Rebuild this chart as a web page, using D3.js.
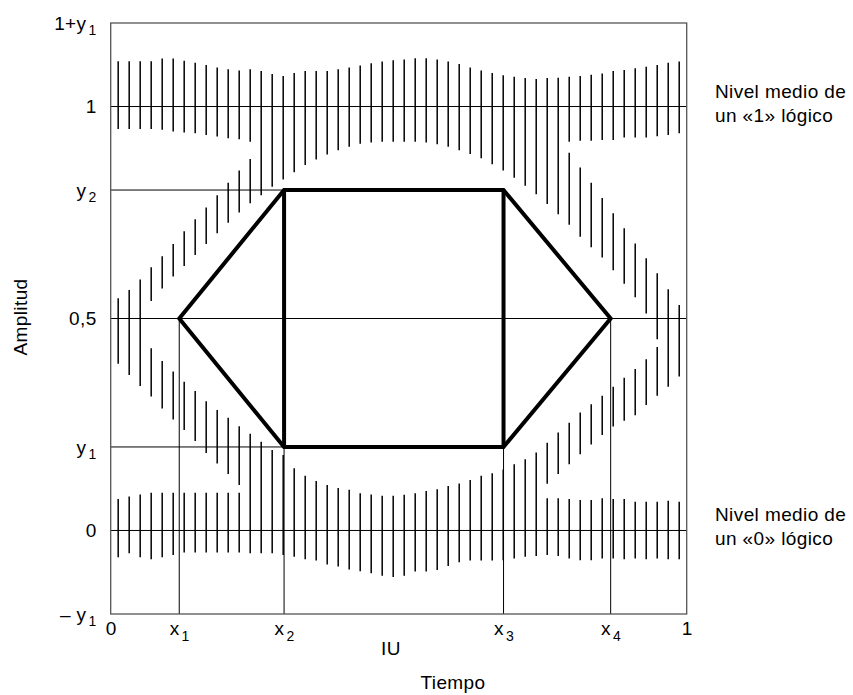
<!DOCTYPE html>
<html lang="es">
<head>
<meta charset="UTF-8">
<title>Diagrama de ojo</title>
<script src="https://cdn.jsdelivr.net/npm/d3@7"></script>
<style>
  body { margin: 0; background: #fff; }
  svg { display: block; font-family: "Liberation Sans", Arial, sans-serif; }
  text { letter-spacing: 0.4px; }
</style>
</head>
<body>
<svg width="853" height="695"></svg>
<script>
// niveles
var y1 = 0.197, y2 = 1 - y1;
var x1 = 0.119, x2 = 0.301, x3 = 0.682, x4 = 0.868;

// etiquetas de los ejes: [texto, subindice]
var yTicks = [-y1, 0, y1, 0.5, y2, 1, 1 + y1];
var yLabels = [["\u2013 y", "1"], ["0", ""], ["y", "1"], ["0,5", ""], ["y", "2"], ["1", ""], ["1+y", "1"]];
var xTicks = [0, x1, x2, x3, x4, 1];
var xLabels = [["0", ""], ["x", "1"], ["x", "2"], ["x", "3"], ["x", "4"], ["1", ""]];

// rayado: una columna por cada trazo vertical (amplitud)
var hatchFrom = 0.013, hatchTo = 0.987;
var upperTop = [1.107,1.107,1.107,1.107,1.113,1.113,1.108,1.103,1.098,1.092,1.088,1.085,1.088,1.084,1.077,1.072,1.079,1.084,1.084,1.084,1.088,1.092,1.097,1.102,1.106,1.109,1.111,1.114,1.114,1.111,1.106,1.100,1.092,1.085,1.079,1.074,1.070,1.067,1.065,1.067,1.068,1.070,1.072,1.075,1.078,1.084,1.086,1.090,1.094,1.098,1.103,1.106];
var upperBot = [0.947,0.947,0.947,0.947,0.945,0.941,0.939,0.937,0.933,0.929,0.925,0.923,0.917,0.791,0.811,0.828,0.845,0.862,0.875,0.887,0.897,0.905,0.912,0.915,0.917,0.917,0.917,0.917,0.915,0.911,0.905,0.897,0.888,0.878,0.864,0.849,0.832,0.813,0.793,0.770,0.746,0.917,0.919,0.919,0.921,0.921,0.927,0.927,0.927,0.930,0.933,0.937];
var lowerTop = [0.074,0.080,0.085,0.089,0.089,0.089,0.089,0.089,0.089,0.089,0.089,0.089,0.228,0.209,0.190,0.178,0.147,0.129,0.117,0.107,0.100,0.096,0.088,0.085,0.082,0.082,0.084,0.088,0.093,0.097,0.105,0.111,0.119,0.129,0.135,0.144,0.156,0.168,0.184,0.076,0.076,0.074,0.072,0.072,0.076,0.074,0.074,0.068,0.068,0.068,0.070,0.068];
var lowerBot = [-0.063,-0.054,-0.063,-0.068,-0.063,-0.058,-0.052,-0.052,-0.052,-0.052,-0.052,-0.052,-0.054,-0.054,-0.054,-0.058,-0.062,-0.068,-0.071,-0.080,-0.085,-0.092,-0.096,-0.101,-0.107,-0.110,-0.107,-0.097,-0.097,-0.093,-0.084,-0.075,-0.071,-0.071,-0.071,-0.070,-0.066,-0.062,-0.060,-0.058,-0.060,-0.066,-0.070,-0.070,-0.066,-0.066,-0.068,-0.066,-0.068,-0.066,-0.068,-0.068];

// transiciones sueltas: [columna, arriba, abajo]
var riseLeft = [[0,0.548,0.393],[1,0.567,0.367],[2,0.592,0.341],[3,0.621,0.541],[4,0.647,0.571],[5,0.676,0.599],[6,0.706,0.624],[7,0.734,0.650],[8,0.762,0.676],[9,0.791,0.701],[10,0.820,0.726],[11,0.849,0.750],[12,0.876,0.772]];
var fallLeft = [[3,0.430,0.316],[4,0.400,0.288],[5,0.375,0.262],[6,0.351,0.237],[7,0.329,0.211],[8,0.305,0.183],[9,0.284,0.158],[10,0.266,0.133],[11,0.246,0.107]];
var riseRight = [[39,0.207,0.110],[40,0.231,0.133],[41,0.254,0.156],[42,0.278,0.180],[43,0.298,0.203],[44,0.318,0.225],[45,0.339,0.245],[46,0.360,0.259],[47,0.381,0.272],[48,0.404,0.296],[49,0.433,0.318]];
var fallRight = [[41,0.891,0.721],[42,0.856,0.693],[43,0.820,0.668],[44,0.784,0.644],[45,0.748,0.614],[46,0.713,0.582],[47,0.677,0.550],[48,0.642,0.512],[49,0.607,0.451],[50,0.569,0.339],[51,0.532,0.363]];

// mascara del ojo
var eye = [[x1, 0.5], [x2, y2], [x3, y2], [x4, 0.5], [x3, y1], [x2, y1]];

var margin = {top: 23, left: 110.7};
var width = 576, height = 591;

var svg = d3.select("svg");
var g = svg.append("g").attr("transform", "translate(" + margin.left + "," + margin.top + ")");

var x = d3.scaleLinear().domain([0, 1]).range([0, width]);
var y = d3.scaleLinear().domain([-y1, 1 + y1]).range([height, 0]);
var col = d3.scalePoint().domain(d3.range(upperTop.length)).range([x(hatchFrom), x(hatchTo)]);

// segmentos del rayado
var segs = [];
upperTop.forEach(function(d, i) {
  segs.push([i, d, upperBot[i]]);
  segs.push([i, lowerTop[i], lowerBot[i]]);
});
segs = segs.concat(riseLeft, fallLeft, riseRight, fallRight);

g.append("g").selectAll("line").data(segs).enter().append("line")
  .attr("x1", function(d) { return col(d[0]); })
  .attr("x2", function(d) { return col(d[0]); })
  .attr("y1", function(d) { return y(d[1]); })
  .attr("y2", function(d) { return y(d[2]); })
  .attr("stroke", "#000")
  .attr("stroke-width", 1.5);

// lineas finas
var hLines = [[1, 0, 1], [0.5, 0, 1], [0, 0, 1], [y2, 0, x2], [y1, 0, x2]];
var vLines = [[x1, -y1, 0.5], [x2, -y1, y1], [x3, -y1, y1], [x4, -y1, 0.5]];
g.append("g").selectAll("line").data(hLines).enter().append("line")
  .attr("x1", function(d) { return x(d[1]); })
  .attr("x2", function(d) { return x(d[2]); })
  .attr("y1", function(d) { return y(d[0]); })
  .attr("y2", function(d) { return y(d[0]); })
  .attr("stroke", "#000").attr("stroke-width", 1);
g.append("g").selectAll("line").data(vLines).enter().append("line")
  .attr("x1", function(d) { return x(d[0]); })
  .attr("x2", function(d) { return x(d[0]); })
  .attr("y1", function(d) { return y(d[1]); })
  .attr("y2", function(d) { return y(d[2]); })
  .attr("stroke", "#000").attr("stroke-width", 1);

// marco
g.append("rect").attr("x", 0).attr("y", 0).attr("width", width).attr("height", height)
  .attr("fill", "none").attr("stroke", "#555").attr("stroke-width", 1.3);

// hexagono
g.append("path")
  .attr("d", d3.line().x(function(d) { return x(d[0]); }).y(function(d) { return y(d[1]); })(eye) + "Z")
  .attr("fill", "none").attr("stroke", "#000").attr("stroke-width", 4).attr("stroke-linejoin", "miter");
g.append("g").selectAll("line").data([x2, x3]).enter().append("line")
  .attr("x1", function(d) { return x(d); }).attr("x2", function(d) { return x(d); })
  .attr("y1", y(y1)).attr("y2", y(y2))
  .attr("stroke", "#000").attr("stroke-width", 4);

// ejes
function subLabel(sel, labels, subDy) {
  sel.selectAll(".tick text").each(function(d, i) {
    var t = d3.select(this).text("");
    t.append("tspan").text(labels[i][0]);
    if (labels[i][1]) t.append("tspan").attr("font-size", 14).attr("dx", 2).attr("dy", subDy).text(labels[i][1]);
  });
}
var yAxis = g.append("g").call(d3.axisLeft(y).tickValues(yTicks).tickSize(0).tickPadding(14));
yAxis.select(".domain").remove();
yAxis.selectAll("text").attr("font-size", 19).attr("font-family", "Liberation Sans, Arial, sans-serif").attr("fill", "#000");
subLabel(yAxis, yLabels, 5);

var xAxis = g.append("g").attr("transform", "translate(0," + height + ")")
  .call(d3.axisBottom(x).tickValues(xTicks).tickSize(0).tickPadding(8));
xAxis.select(".domain").remove();
xAxis.selectAll("text").attr("font-size", 19).attr("font-family", "Liberation Sans, Arial, sans-serif").attr("fill", "#000");
subLabel(xAxis, xLabels, 6);

// titulos
svg.append("text").attr("x", 391).attr("y", 655).attr("text-anchor", "middle").attr("font-size", 19).text("IU");
svg.append("text").attr("x", 453).attr("y", 689).attr("text-anchor", "middle").attr("font-size", 19).text("Tiempo");
svg.append("text").attr("transform", "translate(27,317) rotate(-90)").attr("text-anchor", "middle").attr("font-size", 19).text("Amplitud");

var notes = [[1, "Nivel medio de", "un \u00ab1\u00bb l\u00f3gico"], [0, "Nivel medio de", "un \u00ab0\u00bb l\u00f3gico"]];
notes.forEach(function(n) {
  var t = svg.append("text").attr("x", 715).attr("y", margin.top + y(n[0]) - 9).attr("font-size", 19);
  t.append("tspan").text(n[1]);
  t.append("tspan").attr("x", 715).attr("dy", 24).text(n[2]);
});
</script>
</body>
</html>
